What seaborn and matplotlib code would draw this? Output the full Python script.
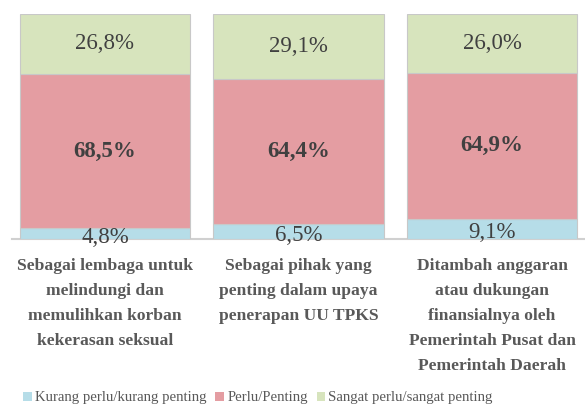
import matplotlib
matplotlib.use("Agg")
import matplotlib.pyplot as plt
import seaborn as sns
import numpy as np
from matplotlib.patches import Patch

# Survey results: share of respondents per answer, for each statement
categories = [
    "Sebagai lembaga untuk\nmelindungi dan\nmemulihkan korban\nkekerasan seksual",
    "Sebagai pihak yang\npenting dalam upaya\npenerapan UU TPKS",
    "Ditambah anggaran\natau dukungan\nfinansialnya oleh\nPemerintah Pusat dan\nPemerintah Daerah",
]
series_names = [
    "Kurang perlu/kurang penting",
    "Perlu/Penting",
    "Sangat perlu/sangat penting",
]
kurang = [4.8, 6.5, 9.1]
perlu = [68.5, 64.4, 64.9]
sangat = [26.8, 29.1, 26.0]

colors = ["#B6DDE8", "#E49DA2", "#D7E4BD"]
text_color = "#404040"
label_color = "#595959"

sns.set_theme(style="white")
plt.rcParams["font.family"] = ["Liberation Serif", "DejaVu Serif"]

fig = plt.figure(figsize=(5.85, 4.09), dpi=100)
ax = fig.add_axes([12 / 585, 1 - 239 / 409, 573 / 585, 225 / 409])

series = [kurang, perlu, sangat]
bottom = np.zeros(len(categories))
for vals, col in zip(series, colors):
    sns.barplot(x=list(range(len(categories))), y=vals, bottom=bottom,
                color=col, width=0.88, edgecolor="#C8C8C8", linewidth=0.8,
                saturation=1, ax=ax, native_scale=True, zorder=2)
    bottom = bottom + np.array(vals)

# value labels centred in each segment
bottom = np.zeros(len(categories))
for k, vals in enumerate(series):
    for i, v in enumerate(vals):
        yc = bottom[i] + v / 2
        txt = f"{v:.1f}%".replace(".", ",")
        dy = -3 if k == 0 else 0
        ax.annotate(txt, (i, yc), xytext=(0, dy), textcoords="offset points",
                    ha="center", va="center", fontsize=16.5,
                    fontweight="bold" if k == 1 else "normal",
                    color=text_color, zorder=5)
    bottom = bottom + np.array(vals)

ax.set_xlim(-0.48, 2.48)
ax.set_ylim(0, 100)
ax.set_yticks([])
ax.set_xticks(range(len(categories)))
ax.set_xticklabels(categories, fontsize=12.6, fontweight="bold",
                   color=label_color, linespacing=1.76)
ax.tick_params(axis="x", length=0, pad=13.5)
ax.set_xlabel("")
ax.set_ylabel("")
for s in ["top", "left", "right"]:
    ax.spines[s].set_visible(False)
ax.spines["bottom"].set_color("#D0D0D0")
ax.spines["bottom"].set_linewidth(1.5)
ax.spines["bottom"].set_zorder(1)

handles = [Patch(facecolor=c, edgecolor="none") for c in colors]
fig.legend(handles, series_names, loc="center", bbox_to_anchor=(258 / 585, 1 - 398 / 409),
           ncol=3, frameon=False, fontsize=10.6, handlelength=0.6, handleheight=0.6,
           handletextpad=0.2, columnspacing=0.6, labelcolor=label_color)

fig.savefig("out.png", dpi=100)
